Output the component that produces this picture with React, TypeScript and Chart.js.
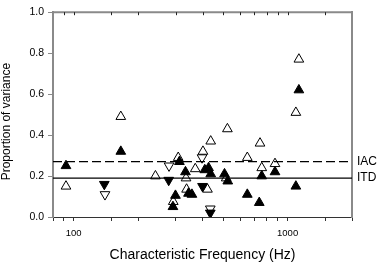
import React, { useEffect, useRef } from "react";
import { Chart, registerables } from "chart.js";

Chart.register(...registerables);

// ---- data ----
const X_MIN = 80;
const X_MAX = 2000;
const X_LABELS = [100, 1000];
const Y_MIN = 0;
const Y_MAX = 1;
const Y_STEP = 0.2;

const X_TITLE = "Characteristic Frequency (Hz)";
const Y_TITLE = "Proportion of variance";

const IAC_LEVEL = 0.27;
const ITD_LEVEL = 0.19;
const REF_NAMES = ["IAC", "ITD"];

const openUpFreq = [92, 166, 241, 308, 335, 370, 402, 437, 523, 743, 648, 757, 873, 1129, 1093, 516, 422, 337, 292];
const openUpVal = [0.15, 0.49, 0.2, 0.29, 0.19, 0.235, 0.32, 0.37, 0.43, 0.36, 0.29, 0.24, 0.26, 0.77, 0.51, 0.19, 0.135, 0.135, 0.075];

const filledUpFreq = [92, 166, 312, 333, 410, 427, 437, 507, 525, 757, 873, 1129, 1093, 648, 737, 344, 357, 299, 291];
const filledUpVal = [0.25, 0.32, 0.27, 0.22, 0.23, 0.24, 0.21, 0.21, 0.175, 0.2, 0.22, 0.62, 0.15, 0.11, 0.07, 0.115, 0.11, 0.105, 0.05];

const filledDownFreq = [139, 278, 400, 435];
const filledDownVal = [0.16, 0.18, 0.15, 0.02];

const openDownFreq = [140, 279, 398, 435];
const openDownVal = [0.11, 0.25, 0.29, 0.04];

const FONT = "'Liberation Sans', Arial, Helvetica, sans-serif";
const AXIS_GRAY = "#8a8a8a";

const pts = (xs: number[], ys: number[]) => xs.map((x, i) => ({ x, y: ys[i] }));

const framePlugin = {
  id: "frame",
  afterDraw(chart: any) {
    const { ctx, chartArea } = chart;
    const xs = chart.scales.x;
    ctx.save();
    // top border
    ctx.strokeStyle = AXIS_GRAY;
    ctx.lineWidth = 2;
    ctx.beginPath();
    ctx.moveTo(chartArea.left - 1, chartArea.top);
    ctx.lineTo(chartArea.right + 1, chartArea.top);
    ctx.stroke();
    // top inward ticks at the x scale's ticks
    ctx.strokeStyle = "#222";
    ctx.lineWidth = 1;
    xs.ticks.forEach((t: any) => {
      if (t.value <= X_MIN || t.value >= X_MAX) return;
      const px = Math.round(xs.getPixelForValue(t.value)) + 0.5;
      ctx.beginPath();
      ctx.moveTo(px, chartArea.top);
      ctx.lineTo(px, chartArea.top + 3);
      ctx.stroke();
    });
    // y-axis title
    ctx.fillStyle = "#000";
    ctx.font = `12px ${FONT}`;
    ctx.textAlign = "center";
    ctx.textBaseline = "middle";
    ctx.translate(7, (chartArea.top + chartArea.bottom) / 2 + 7);
    ctx.rotate(-Math.PI / 2);
    ctx.fillText(Y_TITLE, 0, 0);
    ctx.restore();
  },
};

export default function App() {
  const ref = useRef<HTMLCanvasElement | null>(null);

  useEffect(() => {
    if (!ref.current) return;
    const triangle = (data: any[], filled: boolean, down: boolean) => ({
      type: "scatter" as const,
      data,
      pointStyle: "triangle",
      pointRadius: 5.6,
      pointRotation: down ? 180 : 0,
      pointBackgroundColor: filled ? "#000" : "#fff",
      pointBorderColor: "#000",
      pointBorderWidth: 1,
      showLine: false,
    });
    const refLine = (level: number, dashed: boolean) => ({
      type: "line" as const,
      data: [
        { x: X_MIN, y: level },
        { x: X_MAX, y: level },
      ],
      borderColor: "#000",
      borderWidth: 1.2,
      borderDash: dashed ? [9, 4] : [],
      pointRadius: 0,
      fill: false,
    });

    const chart = new Chart(ref.current, {
      type: "scatter",
      data: {
        datasets: [
          refLine(IAC_LEVEL, true),
          refLine(ITD_LEVEL, false),
          triangle(pts(filledUpFreq, filledUpVal), true, false),
          triangle(pts(filledDownFreq, filledDownVal), true, true),
          triangle(pts(openUpFreq, openUpVal), false, false),
          triangle(pts(openDownFreq, openDownVal), false, true),
        ] as any,
      },
      options: {
        animation: false,
        responsive: false,
        layout: { padding: { top: 5, right: 0, left: 0, bottom: 0 } },
        plugins: { legend: { display: false }, tooltip: { enabled: false } },
        scales: {
          x: {
            type: "logarithmic",
            position: "bottom",
            min: X_MIN,
            max: X_MAX,
            afterFit: (s: any) => {
              s.height = 45;
            },
            border: { color: "#333", width: 1 },
            grid: { drawOnChartArea: false, drawTicks: true, tickLength: 4, color: "#333" },
            ticks: {
              autoSkip: false,
              maxRotation: 0,
              padding: 7,
              color: "#000",
              font: { family: FONT, size: 9.5 },
              callback: (v: any) => {
                const n = Number(v);
                const hit = X_LABELS.find((l) => Math.abs(n - l) / l < 1e-6);
                return hit !== undefined ? String(hit) : "";
              },
            },
            title: {
              display: true,
              text: X_TITLE,
              color: "#000",
              font: { family: FONT, size: 14, lineHeight: 1.0 },
              padding: 0,
            },
          },
          y: {
            type: "linear",
            position: "left",
            min: Y_MIN,
            max: Y_MAX,
            afterFit: (s: any) => {
              s.width = 53;
            },
            border: { color: AXIS_GRAY, width: 2 },
            grid: { drawOnChartArea: false, drawTicks: true, tickLength: 5, color: AXIS_GRAY },
            ticks: {
              stepSize: Y_STEP,
              padding: 4,
              color: "#000",
              font: { family: FONT, size: 10.5 },
              callback: (v: any) => Number(v).toFixed(1),
            },
          },
          y2: {
            type: "linear",
            position: "right",
            min: Y_MIN,
            max: Y_MAX,
            afterBuildTicks: (s: any) => {
              s.ticks = [{ value: IAC_LEVEL }, { value: ITD_LEVEL }];
            },
            afterFit: (s: any) => {
              s.width = 26;
            },
            border: { color: AXIS_GRAY, width: 2 },
            grid: { drawOnChartArea: false, drawTicks: false },
            ticks: {
              padding: 5,
              color: "#000",
              font: { family: FONT, size: 12 },
              callback: (v: any) => (Math.abs(Number(v) - IAC_LEVEL) < 1e-9 ? REF_NAMES[0] : REF_NAMES[1]),
            },
          },
        },
      } as any,
      plugins: [framePlugin],
    });
    return () => chart.destroy();
  }, []);

  return (
    <div style={{ position: "fixed", left: 0, top: 0, width: 378, height: 262, background: "#fff" }}>
      <canvas ref={ref} width={378} height={262} style={{ display: "block", width: 378, height: 262 }} />
    </div>
  );
}
